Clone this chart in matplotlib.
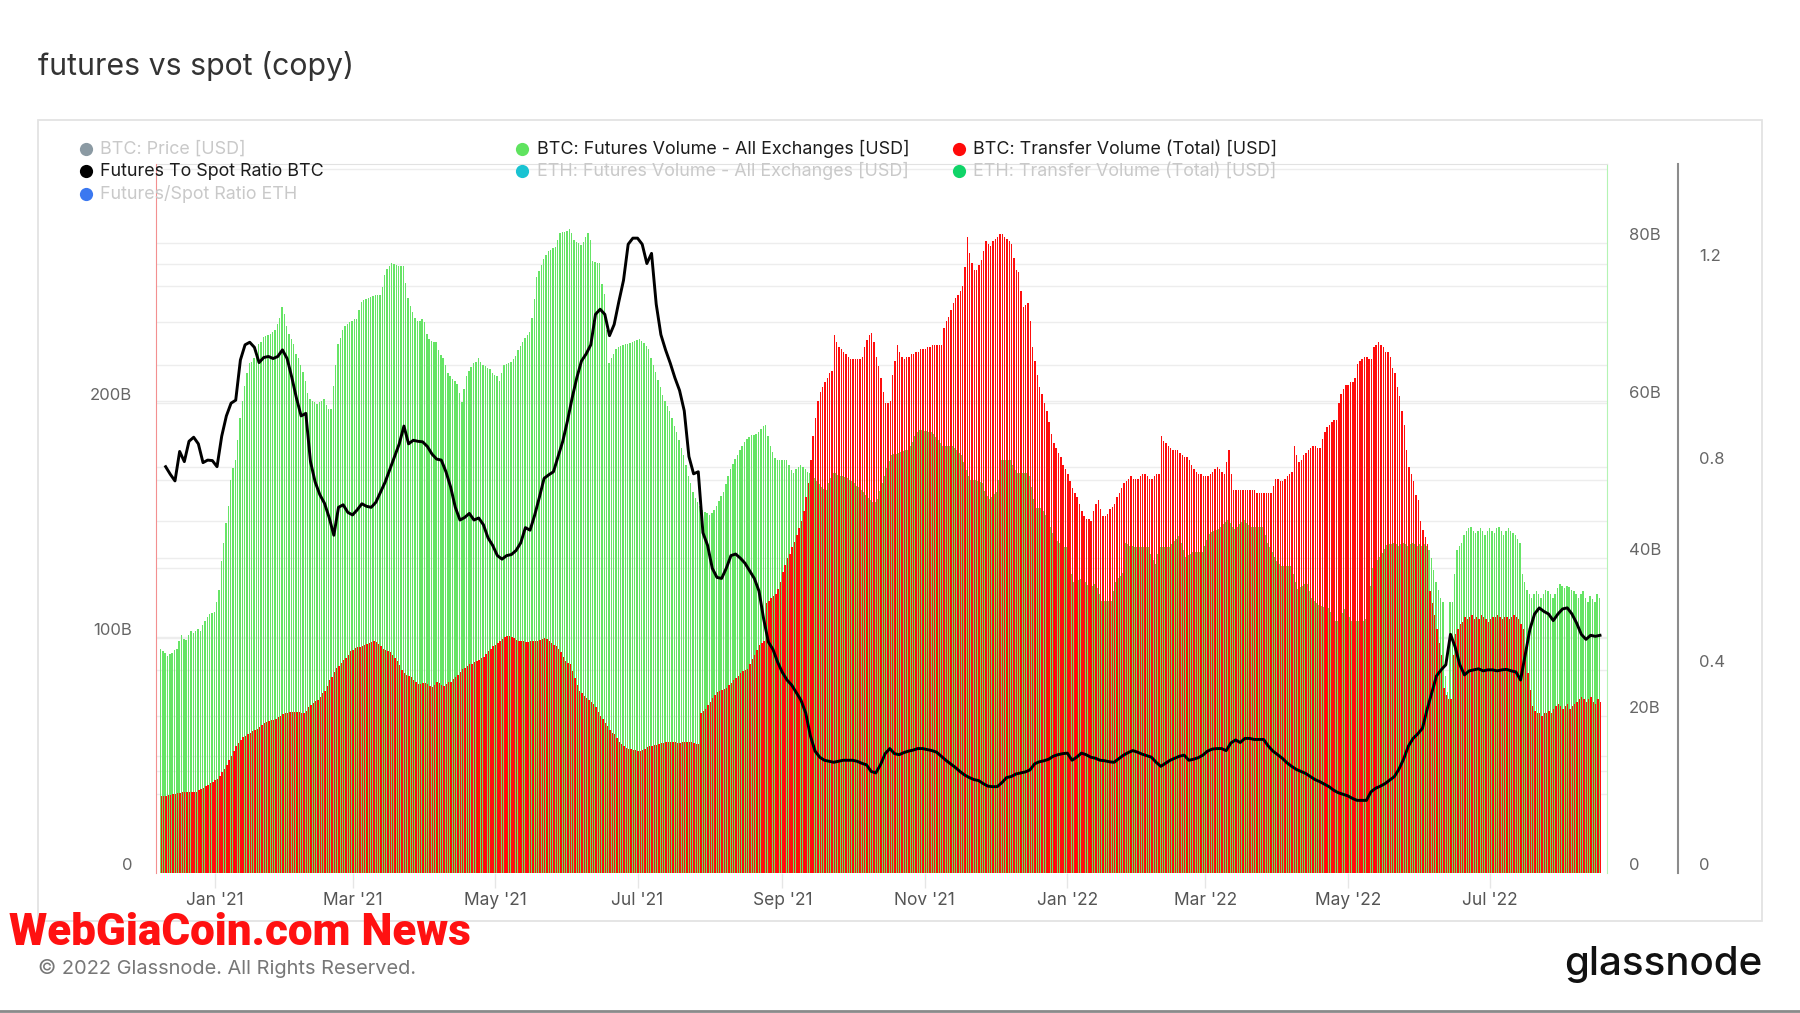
import numpy as np
import pandas as pd
import matplotlib
matplotlib.use('Agg')
import matplotlib.pyplot as plt
import matplotlib.dates as mdates
from matplotlib.lines import Line2D
from matplotlib.patches import Rectangle
from matplotlib.transforms import blended_transform_factory

plt.rcParams['font.family'] = ['Inter', 'DejaVu Sans']

# daily values from 2020-12-09, billions of USD
btc_futures_vol = [
    28.5, 28.2, 28.0, 27.6, 27.8, 28.0, 28.3, 28.5, 29.5, 30.2,
    29.8, 29.6, 30.2, 30.8, 30.5, 30.8, 31.0, 30.8, 31.5, 32.0,
    32.5, 32.9, 33.0, 33.2, 34.5, 36.0, 39.6, 42.0, 44.5, 46.7,
    50.0, 51.5, 52.5, 55.0, 57.8, 60.0, 61.9, 63.5, 64.8, 65.0,
    65.4, 66.5, 67.2, 67.5, 68.1, 68.3, 68.4, 68.5, 68.7, 69.0,
    69.8, 70.5, 71.9, 71.0, 69.5, 68.5, 67.8, 67.2, 66.0, 65.4,
    64.5, 63.7, 62.5, 61.0, 60.2, 60.0, 59.8, 59.6, 59.8, 60.0,
    60.2, 59.5, 59.0, 59.0, 61.9, 64.5, 67.2, 68.0, 69.0, 69.5,
    69.8, 70.0, 70.2, 70.4, 70.4, 71.5, 72.5, 72.8, 73.0, 73.1,
    73.2, 73.3, 73.4, 73.4, 73.4, 74.5, 76.0, 76.8, 77.2, 77.5,
    77.4, 77.3, 77.2, 77.2, 77.2, 75.0, 73.1, 72.0, 71.3, 70.5,
    70.1, 70.2, 70.4, 70.0, 68.5, 67.8, 67.6, 67.5, 67.5, 66.5,
    65.8, 65.4, 64.5, 63.5, 63.1, 62.8, 62.5, 62.2, 61.0, 59.9,
    61.5, 63.1, 63.8, 64.3, 64.8, 65.0, 65.4, 65.0, 64.6, 64.4,
    64.2, 64.0, 63.6, 63.3, 63.1, 62.5, 63.5, 64.6, 64.7, 64.8,
    65.0, 65.3, 65.7, 66.5, 67.0, 67.5, 68.0, 68.4, 68.8, 70.5,
    73.0, 75.7, 76.5, 77.3, 78.0, 78.5, 79.0, 79.2, 79.4, 79.5,
    80.5, 81.3, 81.5, 81.5, 81.6, 81.9, 81.3, 80.5, 80.2, 80.0,
    79.8, 80.2, 80.8, 81.3, 80.5, 77.8, 77.6, 77.5, 77.5, 74.8,
    73.6, 69.0, 64.8, 65.5, 66.0, 66.6, 66.8, 67.0, 67.1, 67.2,
    67.2, 67.3, 67.5, 67.6, 67.7, 67.8, 67.6, 67.3, 67.0, 66.6,
    65.5, 64.5, 63.7, 62.7, 61.7, 60.7, 60.0, 59.3, 58.7, 57.8,
    56.8, 56.0, 55.0, 54.0, 53.1, 51.8, 50.5, 49.6, 48.4, 47.6,
    47.2, 46.6, 46.1, 45.9, 45.7, 45.5, 45.7, 46.1, 46.7, 47.3,
    47.9, 48.4, 49.4, 50.4, 51.3, 52.0, 52.6, 53.1, 53.7, 54.2,
    54.8, 55.2, 55.4, 55.6, 55.7, 55.8, 56.0, 56.4, 56.8, 56.9,
    55.5, 54.3, 53.5, 52.8, 52.5, 52.5, 52.5, 52.5, 52.5, 51.8,
    51.2, 50.8, 51.3, 51.6, 51.9, 51.6, 51.3, 51.0, 50.8, 50.5,
    50.2, 49.8, 49.4, 49.0, 48.8, 48.7, 49.5, 50.2, 50.8, 50.8,
    50.6, 50.5, 50.4, 50.3, 50.2, 50.0, 49.8, 49.5, 49.2, 49.0,
    48.7, 48.4, 48.0, 47.7, 47.4, 47.2, 47.2, 47.5, 48.5, 49.5,
    50.5, 51.5, 52.3, 53.1, 53.2, 53.3, 53.4, 53.5, 53.6, 53.7,
    53.7, 54.2, 54.8, 55.5, 56.0, 56.3, 56.3, 56.2, 56.2, 56.1,
    56.0, 55.8, 55.4, 55.0, 54.6, 54.3, 54.3, 54.3, 54.3, 54.3,
    54.0, 53.7, 53.4, 53.1, 52.2, 51.2, 50.4, 49.9, 49.9, 49.9,
    49.8, 49.7, 49.6, 48.6, 47.9, 47.5, 47.8, 48.1, 48.4, 50.0,
    52.5, 52.5, 52.5, 52.5, 52.5, 51.8, 51.2, 50.8, 50.8, 50.8,
    50.8, 50.8, 50.5, 49.0, 47.5, 46.4, 46.4, 46.4, 46.0, 45.5,
    44.9, 44.0, 43.2, 42.5, 42.2, 41.9, 41.6, 41.4, 41.4, 39.5,
    38.0, 37.0, 37.1, 37.2, 37.3, 37.3, 37.0, 36.6, 36.4, 36.5,
    36.7, 36.2, 35.5, 34.6, 34.6, 34.6, 34.6, 34.6, 35.8, 37.0,
    37.5, 37.8, 38.1, 42.0, 41.8, 41.6, 41.5, 41.4, 41.4, 41.4,
    41.4, 41.4, 41.4, 41.4, 40.5, 39.8, 39.3, 40.5, 41.4, 41.4,
    41.4, 41.4, 41.4, 41.8, 42.2, 42.5, 42.8, 42.0, 41.0, 40.2,
    40.4, 40.6, 40.8, 40.8, 40.8, 40.8, 40.8, 41.5, 42.3, 43.1,
    43.3, 43.5, 43.6, 43.7, 44.0, 44.3, 44.6, 44.9, 44.5, 44.0,
    43.7, 44.0, 44.3, 44.6, 44.9, 44.5, 44.2, 44.0, 44.0, 44.0,
    44.0, 44.0, 44.0, 43.0, 42.0, 41.4, 40.8, 40.2, 39.6, 39.3,
    39.0, 39.0, 39.0, 39.0, 39.0, 38.0, 37.0, 36.1, 36.3, 36.5,
    36.7, 36.7, 35.8, 34.9, 34.6, 34.3, 34.0, 33.9, 33.8, 33.7,
    33.7, 33.2, 32.6, 32.0, 32.0, 32.5, 33.0, 33.5, 33.0, 32.5,
    32.0, 32.0, 32.0, 32.0, 32.0, 32.0, 32.3, 34.5, 36.5, 38.7,
    39.3, 39.8, 40.2, 40.7, 41.2, 41.7, 41.8, 41.8, 42.0, 41.8,
    41.5, 41.8, 42.0, 41.8, 41.5, 41.8, 42.0, 41.8, 41.6, 41.8,
    41.6, 41.8, 41.5, 41.0, 40.0, 38.5, 37.0, 36.0, 35.0, 34.5,
    25.0, 23.0, 34.5, 34.5, 38.0, 41.0, 41.5, 42.0, 43.0, 43.5,
    43.8, 44.0, 43.5, 43.2, 43.5, 43.8, 43.5, 43.0, 43.5, 43.8,
    43.5, 43.2, 43.8, 44.0, 43.5, 43.0, 43.5, 43.8, 43.5, 43.2,
    43.0, 42.5, 42.0, 38.0, 37.0, 36.0, 35.5, 35.0, 35.5, 35.8,
    35.5, 35.0, 35.5, 36.0, 35.8, 35.5, 35.0, 35.5, 36.2, 36.7,
    36.5, 36.2, 36.5, 36.3, 36.0, 35.8, 35.5, 35.0, 35.5, 35.8,
    35.0, 34.5, 35.2, 34.8, 34.5, 35.5, 35.0,
]

btc_transfer_vol = [
    32.7, 33.0, 33.0, 33.2, 33.3, 33.5, 33.8, 34.0, 34.2, 34.3,
    34.3, 34.4, 34.5, 34.5, 34.6, 34.7, 35.2, 35.8, 36.3, 37.0,
    37.6, 38.2, 38.8, 39.5, 40.2, 41.5, 43.1, 44.5, 46.0, 48.0,
    50.0, 52.0, 53.9, 55.2, 56.5, 57.8, 58.5, 59.2, 59.8, 60.5,
    61.0, 61.4, 62.2, 63.0, 63.7, 64.2, 64.7, 65.0, 65.3, 65.7,
    66.3, 67.0, 67.6, 68.0, 68.3, 68.6, 68.6, 68.6, 68.6, 68.6,
    68.3, 68.0, 69.0, 70.5, 71.6, 72.4, 73.2, 73.9, 75.0, 76.5,
    77.5, 79.5, 82.0, 83.3, 85.5, 87.5, 88.2, 89.5, 90.8, 91.5,
    93.0, 94.7, 95.2, 95.8, 96.1, 96.4, 96.8, 97.0, 97.5, 98.0,
    98.6, 99.0, 98.5, 97.5, 96.5, 95.5, 95.0, 94.5, 94.1, 92.8,
    91.5, 90.2, 88.5, 86.5, 85.3, 84.5, 83.8, 83.3, 82.3, 81.2,
    80.4, 80.6, 80.8, 81.0, 80.4, 79.8, 79.4, 80.2, 81.2, 81.0,
    80.0, 79.8, 80.5, 81.2, 81.4, 82.5, 83.5, 84.3, 85.5, 86.7,
    87.5, 88.3, 89.0, 89.2, 89.7, 90.2, 90.8, 91.5, 92.0, 93.3,
    94.5, 95.5, 96.5, 97.2, 97.8, 98.8, 99.5, 100.5, 101.0, 100.8,
    100.6, 100.0, 99.2, 99.0, 98.8, 98.7, 98.6, 98.6, 98.7, 98.8,
    99.0, 99.0, 99.3, 99.7, 100.0, 99.5, 98.8, 98.0, 97.2, 96.5,
    95.5, 94.0, 92.0, 90.5, 89.5, 89.0, 86.0, 83.0, 80.0, 77.5,
    76.5, 75.5, 74.5, 73.5, 72.8, 72.0, 70.5, 68.5, 67.0, 65.5,
    64.0, 62.5, 61.0, 59.5, 59.0, 57.5, 56.0, 55.0, 54.0, 53.2,
    53.0, 52.8, 52.5, 52.3, 52.0, 52.0, 52.5, 53.0, 53.5, 54.0,
    54.3, 54.5, 54.7, 55.0, 55.2, 55.4, 55.6, 55.8, 56.0, 55.8,
    55.6, 55.5, 55.5, 55.7, 56.0, 56.0, 56.0, 55.8, 55.4, 55.0,
    55.0, 68.0, 69.0, 70.0, 71.5, 73.0, 74.5, 76.0, 77.0, 77.5,
    78.0, 78.5, 79.0, 80.0, 81.0, 82.0, 83.0, 84.0, 85.0, 86.0,
    86.5, 87.0, 89.0, 91.0, 93.0, 95.0, 97.0, 98.0, 99.0, 115.0,
    116.0, 117.0, 118.0, 119.0, 121.0, 124.0, 128.0, 131.0, 134.0, 136.0,
    139.0, 141.0, 144.0, 147.0, 150.0, 154.0, 160.0, 166.0, 176.0, 186.0,
    194.0, 201.0, 205.0, 207.0, 209.0, 211.0, 213.0, 214.0, 229.0, 226.0,
    224.0, 223.0, 222.0, 221.0, 220.0, 219.0, 219.0, 219.0, 219.0, 219.0,
    220.0, 224.0, 227.0, 229.0, 230.0, 226.0, 220.0, 216.0, 211.0, 205.0,
    200.0, 200.0, 201.0, 212.0, 218.0, 225.0, 222.0, 220.0, 219.0, 220.0,
    220.0, 221.0, 221.0, 222.0, 222.0, 223.0, 223.0, 223.0, 224.0, 224.0,
    225.0, 225.0, 225.0, 225.0, 225.0, 232.0, 235.0, 237.0, 240.0, 243.0,
    245.0, 246.0, 248.0, 250.0, 258.0, 271.0, 264.0, 260.0, 257.0, 257.0,
    259.0, 261.0, 265.0, 269.0, 268.0, 267.0, 269.0, 270.0, 271.0, 272.0,
    272.0, 271.0, 270.0, 269.0, 268.0, 262.0, 257.0, 256.0, 248.0, 241.0,
    242.0, 243.0, 235.0, 224.0, 218.0, 212.0, 207.0, 204.0, 200.0, 197.0,
    192.0, 187.0, 183.0, 181.0, 179.0, 177.0, 174.0, 172.0, 170.0, 167.0,
    164.0, 162.0, 160.0, 157.0, 154.0, 152.0, 151.0, 151.0, 150.0, 154.0,
    157.0, 159.0, 155.0, 152.0, 152.0, 153.0, 155.0, 156.0, 157.0, 160.0,
    162.0, 164.0, 166.0, 167.0, 168.0, 169.0, 168.0, 168.0, 168.0, 169.0,
    170.0, 170.0, 169.0, 168.0, 168.0, 169.0, 170.0, 170.0, 186.0, 184.0,
    183.0, 182.0, 181.0, 180.0, 180.0, 180.0, 179.0, 178.0, 177.0, 177.0,
    176.0, 174.0, 172.0, 171.0, 170.0, 170.0, 169.0, 169.0, 169.0, 170.0,
    171.0, 172.0, 173.0, 172.0, 171.0, 170.0, 175.0, 180.0, 170.0, 163.0,
    163.0, 163.0, 163.0, 163.0, 163.0, 163.0, 163.0, 163.0, 163.0, 162.0,
    162.0, 162.0, 162.0, 162.0, 162.0, 162.0, 165.0, 168.0, 168.0, 167.0,
    167.0, 168.0, 169.0, 170.0, 171.0, 182.0, 178.0, 175.0, 176.0, 178.0,
    179.0, 180.0, 181.0, 182.0, 182.0, 181.0, 181.0, 185.0, 188.0, 190.0,
    191.0, 192.0, 193.0, 193.0, 200.0, 204.0, 206.0, 208.0, 208.0, 209.0,
    209.0, 211.0, 217.0, 218.0, 219.0, 220.0, 220.0, 219.0, 219.0, 224.0,
    225.0, 226.0, 225.0, 224.0, 222.0, 222.0, 220.0, 215.0, 213.0, 207.0,
    203.0, 197.0, 191.0, 180.0, 173.0, 170.0, 167.0, 161.0, 159.0, 150.0,
    146.0, 143.0, 140.0, 120.0, 115.0, 110.0, 104.0, 98.0, 93.0, 79.0,
    76.0, 74.0, 74.0, 93.0, 102.0, 104.0, 106.0, 107.0, 109.0, 108.0,
    109.0, 110.0, 108.0, 109.0, 108.0, 110.0, 109.0, 108.0, 107.0, 108.0,
    109.0, 109.0, 110.0, 109.0, 108.0, 109.0, 109.0, 108.0, 109.0, 110.0,
    109.0, 108.0, 106.0, 104.0, 92.0, 85.0, 78.0, 71.0, 69.0, 68.0,
    68.0, 67.0, 68.0, 68.0, 69.0, 68.0, 70.0, 71.0, 72.0, 71.0,
    70.0, 71.0, 72.0, 70.0, 71.0, 72.0, 73.0, 74.0, 75.0, 74.0,
    73.0, 74.0, 75.0, 73.0, 72.0, 74.0, 73.0,
]

# every second day from 2020-12-11
btc_fut_spot_ratio = [
    0.80, 0.785, 0.772, 0.83, 0.81, 0.85, 0.858, 0.845, 0.808, 0.813,
    0.812, 0.80, 0.86, 0.90, 0.925, 0.931, 1.01, 1.04, 1.045, 1.035,
    1.005, 1.015, 1.017, 1.013, 1.017, 1.03, 1.013, 0.976, 0.935, 0.90,
    0.905, 0.81, 0.77, 0.745, 0.728, 0.70, 0.665, 0.72, 0.725, 0.71,
    0.705, 0.715, 0.727, 0.722, 0.72, 0.73, 0.75, 0.77, 0.795, 0.82,
    0.845, 0.88, 0.845, 0.852, 0.85, 0.849, 0.84, 0.825, 0.815, 0.813,
    0.79, 0.76, 0.72, 0.695, 0.70, 0.708, 0.695, 0.699, 0.686, 0.66,
    0.645, 0.625, 0.618, 0.625, 0.627, 0.635, 0.65, 0.68, 0.675, 0.705,
    0.74, 0.777, 0.784, 0.79, 0.82, 0.85, 0.89, 0.935, 0.975, 1.008,
    1.022, 1.04, 1.10, 1.11, 1.10, 1.058, 1.08, 1.125, 1.167, 1.238,
    1.25, 1.25, 1.238, 1.20, 1.22, 1.12, 1.06, 1.03, 1.004, 0.975,
    0.95, 0.91, 0.82, 0.786, 0.79, 0.67, 0.645, 0.60, 0.582, 0.58,
    0.60, 0.625, 0.628, 0.62, 0.61, 0.595, 0.58, 0.555, 0.50, 0.455,
    0.44, 0.415, 0.395, 0.38, 0.37, 0.355, 0.34, 0.315, 0.27, 0.24,
    0.228, 0.222, 0.22, 0.218, 0.22, 0.222, 0.222, 0.222, 0.22, 0.216,
    0.213, 0.20, 0.197, 0.213, 0.235, 0.245, 0.235, 0.233, 0.237, 0.24,
    0.242, 0.245, 0.245, 0.243, 0.241, 0.238, 0.23, 0.222, 0.215, 0.208,
    0.20, 0.193, 0.188, 0.184, 0.182, 0.176, 0.171, 0.17, 0.17, 0.178,
    0.188, 0.19, 0.195, 0.197, 0.199, 0.203, 0.215, 0.219, 0.221, 0.224,
    0.23, 0.233, 0.235, 0.236, 0.222, 0.228, 0.236, 0.233, 0.228, 0.226,
    0.222, 0.221, 0.219, 0.218, 0.225, 0.232, 0.237, 0.241, 0.238, 0.234,
    0.231, 0.228, 0.218, 0.21, 0.216, 0.222, 0.226, 0.23, 0.232, 0.222,
    0.224, 0.227, 0.232, 0.24, 0.244, 0.245, 0.245, 0.241, 0.256, 0.262,
    0.257, 0.265, 0.265, 0.263, 0.263, 0.263, 0.25, 0.24, 0.233, 0.226,
    0.217, 0.21, 0.204, 0.2, 0.196, 0.19, 0.184, 0.18, 0.175, 0.17,
    0.163, 0.158, 0.155, 0.152, 0.147, 0.143, 0.143, 0.143, 0.16, 0.167,
    0.171, 0.176, 0.183, 0.19, 0.205, 0.225, 0.25, 0.265, 0.274, 0.285,
    0.322, 0.355, 0.388, 0.40, 0.41, 0.47, 0.445, 0.41, 0.39, 0.398,
    0.40, 0.402, 0.398, 0.40, 0.40, 0.398, 0.40, 0.401, 0.398, 0.396,
    0.38, 0.43, 0.48, 0.51, 0.522, 0.515, 0.51, 0.497, 0.51, 0.52,
    0.522, 0.51, 0.492, 0.47, 0.46, 0.468, 0.466, 0.468,
]

red_ticks = [0, 100, 200]
red_labels = ['0', '100B', '200B']
green_ticks = [0, 20, 40, 60, 80]
green_labels = ['0', '20B', '40B', '60B', '80B']
ratio_ticks = [0, 0.4, 0.8, 1.2]
ratio_labels = ['0', '0.4', '0.8', '1.2']

# (label, marker colour, active)
legend_cols = [
    [('BTC: Price [USD]', '#8b9aa3', False),
     ('Futures To Spot Ratio BTC', '#000000', True),
     ('Futures/Spot Ratio ETH', '#3b78f0', False)],
    [('BTC: Futures Volume - All Exchanges [USD]', '#5fe35f', True),
     ('ETH: Futures Volume - All Exchanges [USD]', '#19c3d2', False)],
    [('BTC: Transfer Volume (Total) [USD]', '#ff0a0a', True),
     ('ETH: Transfer Volume (Total) [USD]', '#10d468', False)],
]

W, H = 1800, 1013
fig = plt.figure(figsize=(W / 100, H / 100), dpi=100)


def fx(x):
    return x / W


def fy(y):
    return 1 - y / H


# panel frame
fig.add_artist(Rectangle((fx(38), fy(921)), (1762 - 38) / W, (921 - 120) / H,
                         transform=fig.transFigure, fill=False, ec='#e3e3e3', lw=1.3))

rect = [fx(156), fy(873), (1607 - 156) / W, (873 - 164) / H]
gx = fig.add_axes(rect)      # green futures volume (right scale)
ax = gx.twinx()              # red transfer volume (left scale), drawn over green
rx = gx.twinx()              # ratio (far right scale)
gx.yaxis.tick_right()
ax.yaxis.tick_left()

# spines first: moving a spine resets its ticks
for a in (gx, ax, rx):
    for s in a.spines.values():
        s.set_visible(False)
rx.spines['right'].set_position(('axes', 1.049))
gx.spines['top'].set_visible(True)
gx.spines['top'].set_color('#e2e2e2')
ax.spines['left'].set_visible(True)
ax.spines['left'].set_color('#f29090')
gx.spines['right'].set_visible(True)
gx.spines['right'].set_color('#b4f4b4')
rx.spines['right'].set_visible(True)
rx.spines['right'].set_color('#8c8c8c')
rx.spines['right'].set_linewidth(1.5)

days_g = mdates.date2num(pd.date_range('2020-12-09', periods=len(btc_futures_vol)))
days_r = mdates.date2num(pd.date_range('2020-12-09', periods=len(btc_transfer_vol)))
days_ratio = mdates.date2num(pd.date_range('2020-12-11', periods=len(btc_fut_spot_ratio), freq='2D'))

gx.bar(days_g - 0.2, btc_futures_vol, width=0.6, color='#66e466', lw=0, zorder=2, antialiased=False)
ax.bar(days_r + 0.2, btc_transfer_vol, width=0.6, color='#ff0d0d', lw=0, zorder=2, antialiased=False)
rx.plot(days_ratio, btc_fut_spot_ratio, color='black', lw=2.1, solid_joinstyle='round', zorder=3)

# faint grid for all three scales, drawn under the bars
grid_kw = dict(color='#ededed', lw=1, zorder=0)
tr_red = blended_transform_factory(gx.transAxes, ax.transData)
tr_ratio = blended_transform_factory(gx.transAxes, rx.transData)
for v in np.arange(50, 301, 50):
    gx.plot([0, 1], [v, v], transform=tr_red, **grid_kw)
for v in np.arange(10, 90, 10):
    gx.axhline(v, **grid_kw)
for v in np.arange(0.2, 1.3, 0.2):
    gx.plot([0, 1], [v, v], transform=tr_ratio, **grid_kw)

gx.set_xlim(mdates.date2num(pd.Timestamp('2020-12-06 21:00')),
            mdates.date2num(pd.Timestamp('2022-08-20')))
gx.set_ylim(0, 90.1)
ax.set_ylim(0, 302)
rx.set_ylim(0, 1.396)

ax.set_yticks(red_ticks, red_labels)
gx.set_yticks(green_ticks, green_labels)
rx.set_yticks(ratio_ticks, ratio_labels)
ax.tick_params(axis='y', length=0, pad=17, labelsize=12, labelcolor='#666666')
gx.tick_params(axis='y', length=0, pad=16, labelsize=12, labelcolor='#666666')
rx.tick_params(axis='y', length=0, pad=15, labelsize=12, labelcolor='#666666')
for a in (ax, gx, rx):
    for t in a.get_yticklabels():
        t.set_verticalalignment('bottom')

gx.xaxis.set_major_locator(mdates.MonthLocator(bymonth=[1, 3, 5, 7, 9, 11]))
gx.xaxis.set_major_formatter(mdates.DateFormatter("%b '%y"))
gx.tick_params(axis='x', length=11, width=1, color='#e6e6e6', pad=2.5,
               labelsize=12.5, labelcolor='#555555')

# legend
marker_x = [86, 522, 959]
text_x = [100, 537, 973]
row_y = [149, 171, 194]
for col, entries in enumerate(legend_cols):
    for row, (label, c, active) in enumerate(entries):
        fig.add_artist(Line2D([fx(marker_x[col])], [fy(row_y[row])], transform=fig.transFigure,
                              marker='o', ms=9.5, color=c, mec='none', ls='none'))
        fig.text(fx(text_x[col]), fy(row_y[row]), label, va='center', ha='left',
                 fontsize=12.9, color='#1c1c1c' if active else '#c9c9c9')

fig.text(fx(38), fy(66), 'futures vs spot (copy)', fontsize=21.8, color='#333333', va='center')
fig.text(fx(38), fy(968), '\u00a9 2022 Glassnode. All Rights Reserved.', fontsize=14.4,
         color='#777777', va='center')
fig.text(fx(1762), fy(964), 'glassnode', ha='right', va='center', fontsize=29,
         fontweight='medium', color='#111111')
fig.add_artist(Line2D([0, 1], [fy(1011), fy(1011)], transform=fig.transFigure, color='#8a8a8a', lw=2))

# red overlay caption, squeezed to the width it has in the picture
wm = fig.text(fx(9), fy(945), 'WebGiaCoin.com News', fontsize=34, fontweight='black',
              color='#ff1111', va='baseline', family=['Roboto', 'DejaVu Sans'])
fig.canvas.draw()
width = wm.get_window_extent().width
if width > 462:
    wm.set_fontsize(34 * 462 / width)

fig.savefig('out.png', dpi=100)
